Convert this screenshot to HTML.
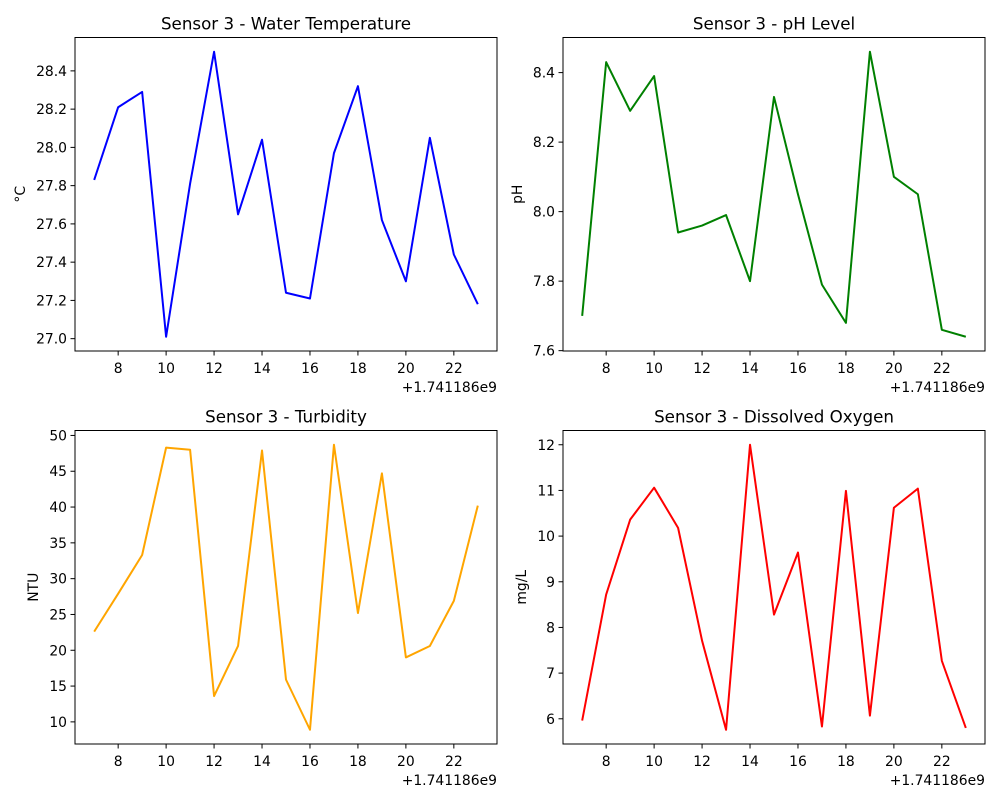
<!DOCTYPE html>
<html><head><meta charset="utf-8">
<style>
html,body{margin:0;padding:0;background:#fff;}
svg{display:block;font-family:"DejaVu Sans","Liberation Sans",sans-serif;}
</style></head>
<body>
<svg id="fig" width="1000" height="800"></svg>
<script>
const xValues = [7,8,9,10,11,12,13,14,15,16,17,18,19,20,21,22,23];
const xTicks = [8,10,12,14,16,18,20,22];
const tempValues = [27.83,28.21,28.29,27.01,27.81,28.50,27.65,28.04,27.24,27.21,27.97,28.32,27.62,27.30,28.05,27.44,27.18];
const tempTicks = [27.0,27.2,27.4,27.6,27.8,28.0,28.2,28.4];
const phValues = [7.70,8.43,8.29,8.39,7.94,7.96,7.99,7.80,8.33,8.05,7.79,7.68,8.46,8.10,8.05,7.66,7.64];
const phTicks = [7.6,7.8,8.0,8.2,8.4];
const turbValues = [22.6,27.9,33.3,48.3,48.0,13.6,20.6,47.9,15.9,8.9,48.7,25.2,44.7,19.0,20.6,26.9,40.2];
const turbTicks = [10,15,20,25,30,35,40,45,50];
const doValues = [5.96,8.72,10.36,11.06,10.18,7.71,5.76,12.0,8.28,9.64,5.83,10.99,6.07,10.62,11.04,7.27,5.80];
const doTicks = [6,7,8,9,10,11,12];

const NS = "http://www.w3.org/2000/svg";
const fig = document.getElementById('fig');
function el(tag, attrs, parent){const e=document.createElementNS(NS,tag);for(const k in attrs)e.setAttribute(k,attrs[k]);(parent||fig).appendChild(e);return e;}

function panel(slug, L, T, W, H, title, ylabel, ylabX, vals, yticks, color, dec){
  const g = el('g',{});
  
  
  const xmin=Math.min(...xValues), xmax=Math.max(...xValues);
  const xpad=(xmax-xmin)*0.05;
  const ymin=Math.min(...vals), ymax=Math.max(...vals);
  const ypad=(ymax-ymin)*0.05;
  const x0=xmin-xpad, x1=xmax+xpad, y0=ymin-ypad, y1=ymax+ypad;
  const sx=v=>L+(v-x0)/(x1-x0)*W;
  const sy=v=>T+H-(v-y0)/(y1-y0)*H;
  const pts = xValues.map((x,i)=>sx(x).toFixed(2)+','+sy(vals[i]).toFixed(2)).join(' ');
  const line = el('polyline',{points:pts,fill:'none',stroke:color,'stroke-width':2,'stroke-linejoin':'round'},g);
  
  
  const fr = el('rect',{x:L,y:T,width:W,height:H,fill:'none',stroke:'#000','stroke-width':1},g);
  
  
  xTicks.forEach(t=>{
    const x=sx(t);
    el('line',{x1:x,x2:x,y1:T+H,y2:T+H+4.5,stroke:'#000','stroke-width':1},g);
    const tx=el('text',{x:x,y:T+H+22,'font-size':13.9,'text-anchor':'middle',fill:'#000'},g);
    tx.textContent=t;
    
    
  });
  const off=el('text',{x:L+W,y:T+H+41,'font-size':13.9,'text-anchor':'end',fill:'#000'},g);
  off.textContent='+1.741186e9';
  
  
  yticks.forEach(t=>{
    const y=sy(t);
    el('line',{x1:L-4.5,x2:L,y1:y,y2:y,stroke:'#000','stroke-width':1},g);
    const ty=el('text',{x:L-8,y:y+5,'font-size':13.9,'text-anchor':'end',fill:'#000'},g);
    ty.textContent=t.toFixed(dec);
    
    
  });
  const tt=el('text',{x:L+W/2,y:T-8,'font-size':16.7,'text-anchor':'middle',fill:'#000'},g);
  tt.textContent=title;
  
  
  const yl=el('text',{x:ylabX,y:T+H/2,'font-size':13.9,'text-anchor':'middle','dominant-baseline':'central',fill:'#000',transform:'rotate(-90 '+ylabX+' '+(T+H/2)+')'},g);
  yl.textContent=ylabel;
  
  
}
panel('temperature',75,37.5,422,313.5,'Sensor 3 - Water Temperature','°C',21,tempValues,tempTicks,'#0000ff',1);
panel('ph',563,37.5,422,313.5,'Sensor 3 - pH Level','pH',518,phValues,phTicks,'#008000',1);
panel('turbidity',75,430.5,422,313.5,'Sensor 3 - Turbidity','NTU',34,turbValues,turbTicks,'#ffa500',0);
panel('dissolved-oxygen',563,430.5,422,313.5,'Sensor 3 - Dissolved Oxygen','mg/L',522,doValues,doTicks,'#ff0000',0);
</script>
</body></html>
